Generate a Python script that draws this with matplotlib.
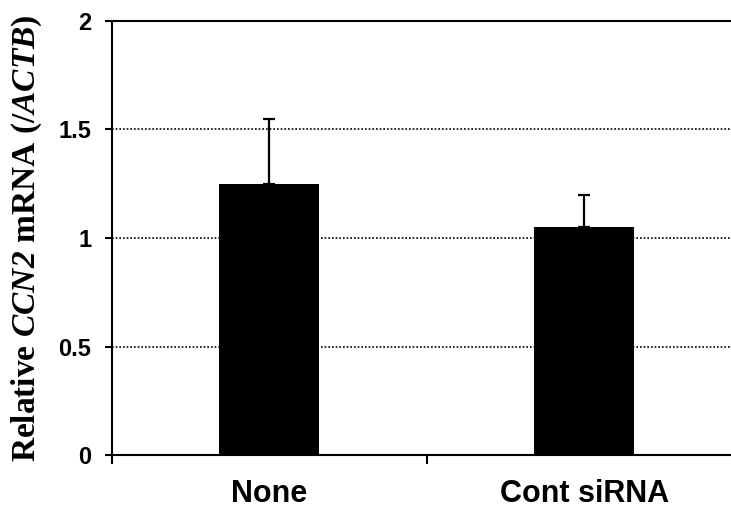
import numpy as np
import matplotlib
matplotlib.use("Agg")
import matplotlib.pyplot as plt

categories = ["None", "Cont siRNA"]
means = [1.25, 1.05]
errs_up = [0.30, 0.15]
yticks = [0, 0.5, 1, 1.5, 2]
ytick_labels = ["0", "0.5", "1", "1.5", "2"]

plt.rcParams["mathtext.fontset"] = "custom"
plt.rcParams["mathtext.rm"] = "Liberation Serif:bold"
plt.rcParams["mathtext.bf"] = "Liberation Serif:bold"
plt.rcParams["mathtext.it"] = "Liberation Serif:italic:bold"
# 'cal' is used for the italic gene names so the digit stays italic too
plt.rcParams["mathtext.cal"] = "Liberation Serif:italic:bold"

fig = plt.figure(figsize=(7.31, 5.08), dpi=100)
ax = fig.add_axes([112 / 731, 53 / 508, 629.5 / 731, 434 / 508])

xs = np.arange(len(categories))
ax.bar(xs, means, width=0.317, color="black", zorder=3)
ax.errorbar(xs, means, yerr=[[0] * len(means), errs_up], fmt="none",
            ecolor="black", elinewidth=1.6, capsize=4.5, capthick=1.6, zorder=2)

ax.set_xlim(-0.5, 1.5)
ax.set_ylim(0, 2)
ax.set_yticks(yticks)
ax.set_yticklabels(ytick_labels, fontfamily="Liberation Sans", fontweight="bold", fontsize=17)
ax.tick_params(axis="y", direction="out", length=5, width=1.5, pad=10)

ax.set_xticks(xs)
ax.set_xticklabels(categories, fontfamily="Liberation Sans", fontweight="bold", fontsize=22)
ax.set_xticks([-0.5, 0.5, 1.5], minor=True)
ax.tick_params(axis="x", which="major", length=0, pad=17)
ax.tick_params(axis="x", which="minor", direction="out", length=6.5, width=1.5)

for y in [0.5, 1, 1.5]:
    ax.axhline(y, color="black", linestyle=(0, (1, 1.2)), linewidth=1.2, zorder=1)

ax.spines["right"].set_visible(False)
for s in ["left", "bottom", "top"]:
    ax.spines[s].set_linewidth(1.5)

fig.text(27 / 731, 0.53, r"$\mathrm{Relative}\ \mathcal{CCN2}\ \mathrm{mRNA}\ (/\mathcal{ACTB})$",
         rotation=90, ha="center", va="center", fontsize=24)

fig.savefig("out.png", dpi=100)
